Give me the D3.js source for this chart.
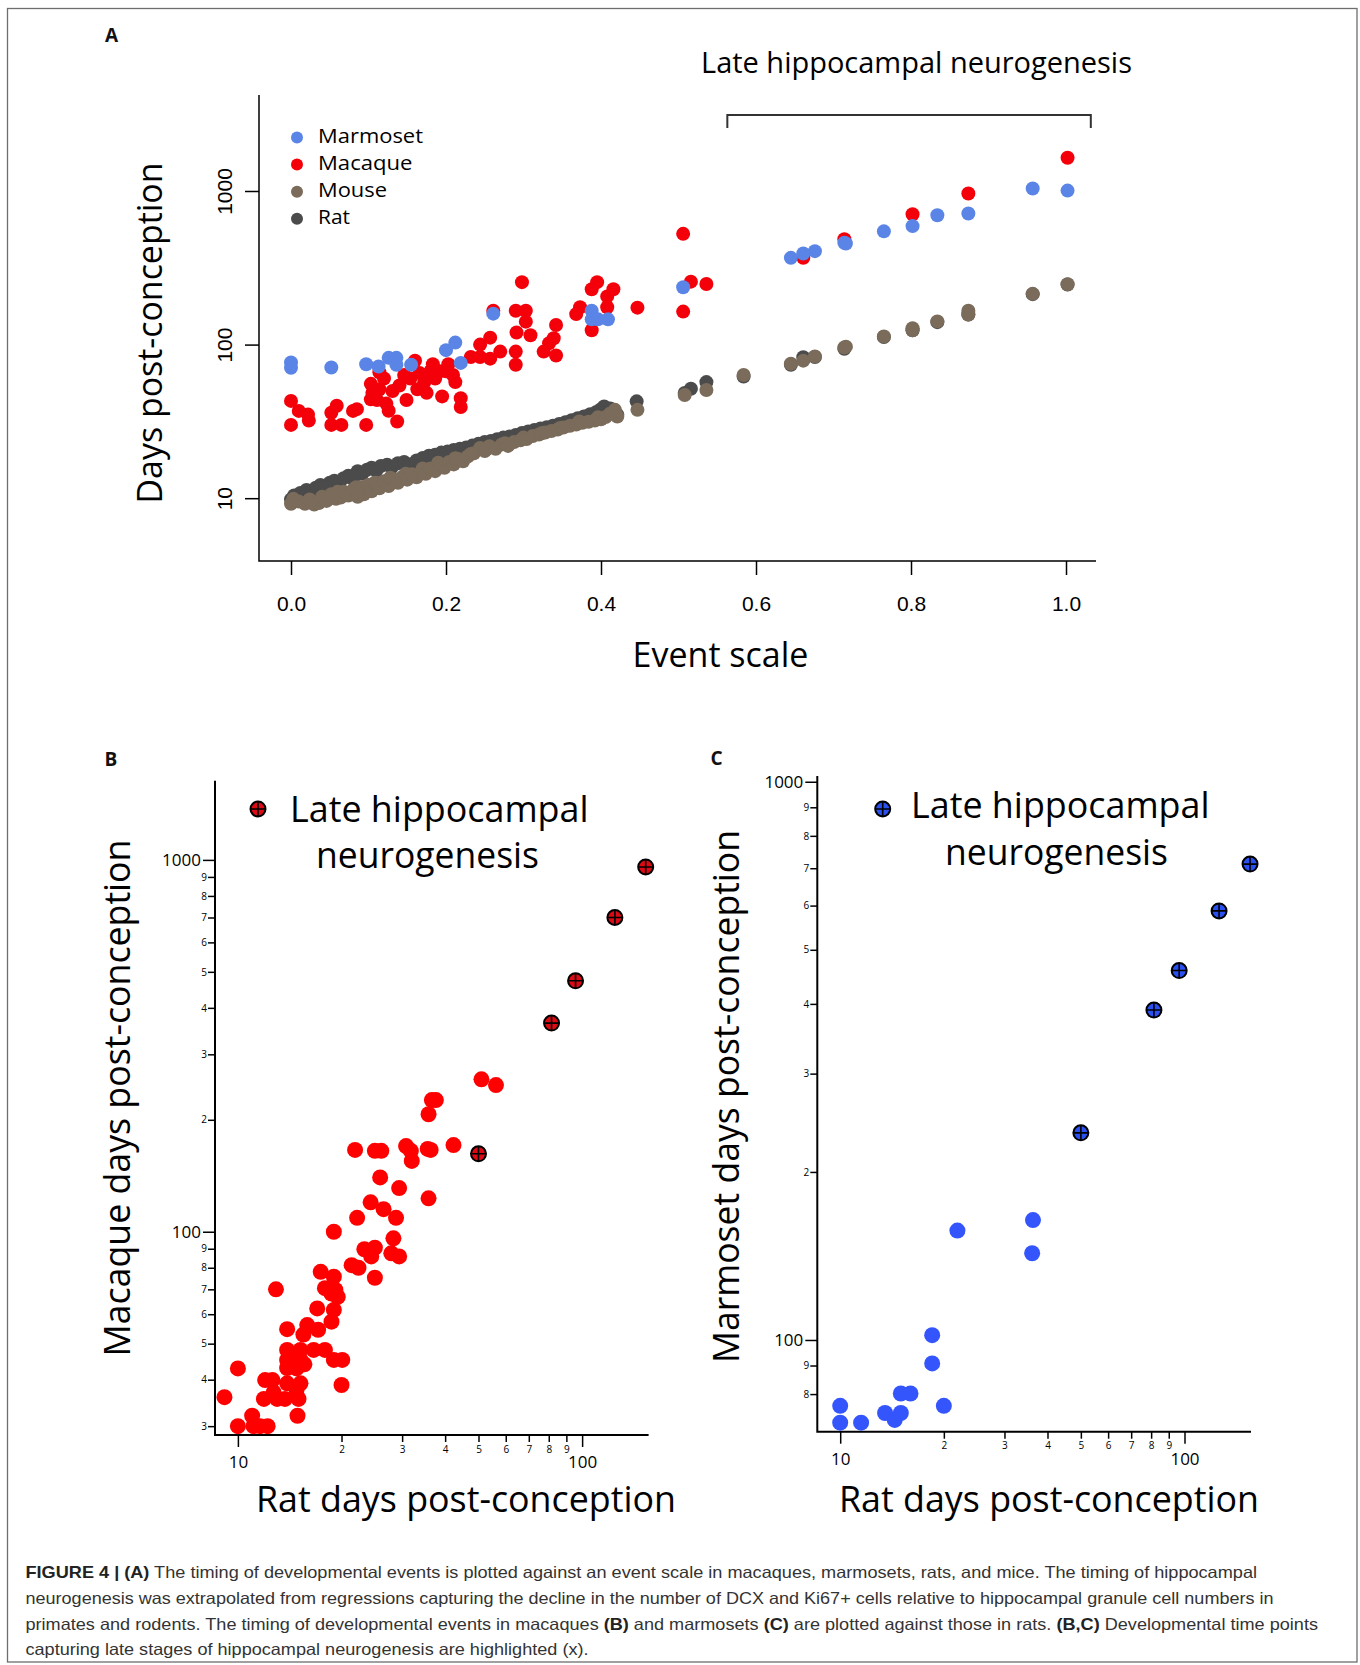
<!DOCTYPE html>
<html>
<head>
<meta charset="utf-8">
<script src="https://cdn.jsdelivr.net/npm/d3@7"></script>
<style>
  body { margin: 0; background: #fff; }
  svg { display: block; }
</style>
</head>
<body>
<svg id="fig"></svg>
<script>
// Panel A: [event scale, days post-conception]
const marmosetA = [
  [0.000, 76.5], [0.000, 70.6], [0.052, 71], [0.097, 74.5], [0.113, 72], [0.126, 82],
  [0.136, 82], [0.136, 74], [0.155, 74], [0.200, 92], [0.212, 103], [0.219, 76],
  [0.261, 159], [0.388, 166], [0.388, 146], [0.396, 146], [0.409, 146], [0.506, 236],
  [0.645, 367], [0.661, 392], [0.676, 406], [0.714, 460], [0.716, 455], [0.765, 546],
  [0.802, 591], [0.834, 695], [0.874, 713], [0.957, 1038], [1.002, 1006],
];
const macaqueA = [
  [0.000, 43], [0.000, 30], [0.010, 37], [0.022, 35], [0.023, 32], [0.052, 36], [0.052, 30],
  [0.059, 40], [0.065, 30], [0.080, 37], [0.085, 38], [0.097, 30], [0.103, 44], [0.103, 55.5],
  [0.105, 48.5], [0.111, 43.6], [0.114, 51.2], [0.114, 66], [0.120, 60.1], [0.123, 41.3],
  [0.126, 37.1], [0.131, 49.9], [0.137, 31.6], [0.140, 54.1], [0.146, 63.4], [0.149, 43.6],
  [0.154, 60.1], [0.160, 78.5], [0.163, 51.2], [0.166, 65.2], [0.172, 57], [0.175, 48.5],
  [0.180, 67], [0.183, 74.5], [0.186, 60.1], [0.192, 67], [0.195, 46], [0.200, 67],
  [0.203, 74.5], [0.209, 63.4], [0.212, 57], [0.219, 44.8], [0.219, 39.2], [0.232, 83],
  [0.244, 100], [0.244, 83], [0.257, 111], [0.257, 81], [0.261, 166], [0.270, 90],
  [0.290, 166], [0.290, 90], [0.290, 74], [0.291, 120], [0.298, 255], [0.303, 166],
  [0.303, 141], [0.309, 115], [0.326, 90], [0.333, 102], [0.339, 110], [0.342, 134],
  [0.342, 85], [0.368, 158], [0.373, 175], [0.388, 229], [0.388, 124], [0.395, 255],
  [0.408, 206], [0.408, 175], [0.416, 229], [0.447, 174], [0.506, 526], [0.506, 164],
  [0.516, 257], [0.536, 248], [0.661, 367], [0.714, 485], [0.802, 706], [0.874, 963],
  [1.002, 1645],
];
const mouseA = [
  [0.000, 9.2], [0.003, 9.9], [0.010, 9.5], [0.018, 9.2], [0.024, 9.8], [0.030, 9.1],
  [0.036, 9.3], [0.040, 10.2], [0.046, 9.6], [0.052, 10.6], [0.058, 9.9], [0.060, 11.0],
  [0.064, 10.1], [0.068, 11.0], [0.074, 10.4], [0.080, 11.3], [0.084, 11.8], [0.086, 10.2],
  [0.090, 11.8], [0.094, 10.6], [0.100, 12.2], [0.104, 11.1], [0.108, 12.6], [0.110, 12.6],
  [0.114, 11.6], [0.120, 12.9], [0.126, 12.0], [0.128, 13.6], [0.132, 13.3], [0.138, 12.6],
  [0.144, 13.8], [0.148, 14.4], [0.150, 13.2], [0.156, 14.3], [0.162, 13.7], [0.168, 14.8],
  [0.170, 15.6], [0.174, 14.4], [0.180, 15.6], [0.186, 15.0], [0.190, 17.0], [0.192, 16.4],
  [0.198, 15.8], [0.204, 17.2], [0.210, 16.6], [0.212, 18.2], [0.216, 18.0], [0.222, 17.4],
  [0.228, 18.7], [0.232, 19.4], [0.236, 19.6], [0.244, 21.2], [0.250, 20.3], [0.252, 20.8],
  [0.256, 21.8], [0.264, 21.0], [0.272, 22.4], [0.276, 22.8], [0.280, 21.9], [0.288, 23.2],
  [0.296, 23.8], [0.300, 24.8], [0.304, 24.3], [0.312, 25.4], [0.320, 26.0], [0.324, 26.6],
  [0.328, 26.8], [0.336, 27.4], [0.344, 28.0], [0.348, 28.8], [0.352, 28.9], [0.360, 29.6],
  [0.368, 30.2], [0.372, 31.6], [0.376, 31.0], [0.384, 31.4], [0.392, 32.0], [0.396, 33.6],
  [0.400, 32.6], [0.406, 33.8], [0.412, 35.6], [0.418, 37.6], [0.421, 34.0], [0.447, 37.6],
  [0.508, 47], [0.536, 50.6], [0.584, 63.4], [0.645, 75], [0.661, 78.6], [0.676, 83.6],
  [0.714, 95.7], [0.716, 97], [0.765, 113], [0.802, 124], [0.802, 128], [0.834, 141.6],
  [0.874, 157], [0.874, 166], [0.957, 214], [1.002, 247],
];
const ratA = [
  [0.000, 9.8], [0.004, 10.4], [0.012, 10.8], [0.020, 11.3], [0.026, 10.6], [0.032, 11.7],
  [0.038, 12.2], [0.044, 11.6], [0.050, 12.6], [0.056, 13.0], [0.062, 12.4], [0.068, 13.5],
  [0.074, 14.0], [0.080, 13.3], [0.086, 15.0], [0.092, 14.4], [0.098, 15.3], [0.104, 15.8],
  [0.110, 15.1], [0.116, 16.2], [0.124, 16.5], [0.130, 15.9], [0.138, 16.9], [0.146, 17.2],
  [0.154, 16.6], [0.162, 17.6], [0.170, 18.3], [0.178, 18.9], [0.186, 19.2], [0.194, 19.8],
  [0.202, 20.1], [0.210, 20.6], [0.218, 21.0], [0.226, 21.4], [0.234, 22.0], [0.242, 22.6],
  [0.250, 23.2], [0.258, 23.6], [0.266, 24.2], [0.274, 24.8], [0.282, 25.2], [0.290, 25.8],
  [0.298, 26.6], [0.306, 27.2], [0.314, 27.8], [0.322, 28.4], [0.330, 29.0], [0.338, 29.6],
  [0.346, 30.4], [0.354, 31.2], [0.362, 32.2], [0.370, 33.2], [0.378, 34.0], [0.386, 35.2],
  [0.394, 36.4], [0.400, 38.0], [0.404, 39.6], [0.412, 38.4], [0.421, 35.0], [0.446, 42.7],
  [0.508, 48.4], [0.516, 51.6], [0.536, 57], [0.584, 62], [0.645, 74], [0.661, 82.8],
  [0.676, 83], [0.714, 94], [0.765, 112], [0.802, 124], [0.834, 140], [0.874, 157],
  [0.957, 213], [1.002, 246],
];
const speciesNames = ['Marmoset', 'Macaque', 'Mouse', 'Rat'];
const speciesColors = ['#5a85e6', '#f4000a', '#7a6b5a', '#4b4b4b'];
const eventTicks = [0, 0.2, 0.4, 0.6, 0.8, 1.0];
const daysTicks = [10, 100, 1000];
const lateRange = [0.563, 1.032];

// Panel B: [rat days, macaque days]
const macaqueVsRat = [
  [51, 257], [56.2, 248], [36.6, 226], [37.6, 226], [35.8, 207], [21.9, 166], [25, 165],
  [26.1, 165], [30.8, 170], [31.8, 165], [35.6, 167], [36.3, 166], [42.3, 171], [32, 155],
  [25.9, 140], [29.4, 131], [35.8, 123], [24.3, 120], [26.5, 115], [22.2, 109], [28.8, 109],
  [19, 100], [28.3, 96], [23.3, 89.7], [25, 90.6], [24.4, 85.8], [27.9, 87.5], [29.4, 85.8],
  [21.4, 81.3], [22.4, 80], [25, 75.2], [17.4, 78], [19, 75.7], [17.9, 70.5], [19.2, 69.7],
  [19.5, 66.8], [18.7, 68.2], [12.9, 70], [17, 62.2], [19, 61.6], [18.7, 57.3], [13.9, 54.7],
  [15.5, 52.9], [15.9, 56.1], [17.1, 54.5], [13.9, 48.1], [15.2, 48.1], [16.6, 48.1],
  [17.9, 48.1], [13.9, 45.2], [15.2, 45.2], [19, 45.2], [20.1, 45.2], [14.8, 42.9], [10, 42.9],
  [12, 39.9], [12.6, 39.9], [13.9, 39.1], [15.2, 39.1], [14.8, 37.5], [20, 38.7], [9.14, 35.9],
  [11.9, 35.5], [13, 35.5], [13.7, 35.5], [15, 35.5], [11, 32], [14.9, 32], [10, 30],
  [11.1, 30], [11.6, 30], [12.2, 30], [13.9, 43], [14.4, 46.5], [15.6, 44], [12.7, 37],
];
const macaqueVsRatLate = [[50, 162], [81.5, 364], [95.7, 473], [124.5, 700], [153, 957]];

// Panel C: [rat days, marmoset days]
const marmosetVsRat = [
  [21.9, 157], [36.3, 164], [36.1, 143], [18.5, 102], [18.5, 90.8], [20, 76.2], [15, 80.2],
  [16, 80.2], [13.5, 74], [14.4, 71.9], [15, 74], [10, 76.2], [10, 71.1], [11.5, 71.1],
];
const marmosetVsRatLate = [[50, 235], [81.5, 390], [96.5, 459], [126, 587], [155, 712]];

const ratMajor = [10, 100];
const ratMinor = [20, 30, 40, 50, 60, 70, 80, 90];
const macaqueMajor = [100, 1000];
const macaqueMinor = [30, 40, 50, 60, 70, 80, 90, 200, 300, 400, 500, 600, 700, 800, 900];
const marmosetMajor = [100, 1000];
const marmosetMinor = [80, 90, 200, 300, 400, 500, 600, 700, 800, 900];

const captionLines = [
  [['FIGURE 4 | (A)', true], [' The timing of developmental events is plotted against an event scale in macaques, marmosets, rats, and mice. The timing of hippocampal', false]],
  [['neurogenesis was extrapolated from regressions capturing the decline in the number of DCX and Ki67+ cells relative to hippocampal granule cell numbers in', false]],
  [['primates and rodents. The timing of developmental events in macaques ', false], ['(B)', true], [' and marmosets ', false], ['(C)', true], [' are plotted against those in rats. ', false], ['(B,C)', true], [' Developmental time points', false]],
  [['capturing late stages of hippocampal neurogenesis are highlighted (x).', false]],
];

const W = 1360;
const H = 1665;
const titleFont = "'Open Sans', sans-serif";

const svg = d3.select('#fig').attr('width', W).attr('height', H)
    .style('font-family', titleFont);

// outer frame
svg.append('rect')
    .attr('x', 7.5).attr('y', 8.5).attr('width', 1349.5).attr('height', 1653.5)
    .attr('fill', 'none').attr('stroke', '#6e6e6e').attr('stroke-width', 1.3);

function panelLetter(label, x, y) {
  svg.append('text').attr('x', x).attr('y', y).text(label)
      .style('font-size', '19px').style('font-weight', 'bold').attr('fill', '#111');
}

function bigText(x, y, txt, size, len, anchor, rotate) {
  const t = svg.append('text').text(txt)
      .style('font-size', size + 'px').attr('fill', '#000')
      .attr('text-anchor', anchor || 'start');
  if (len) t.attr('textLength', len).attr('lengthAdjust', 'spacingAndGlyphs');
  if (rotate) {
    t.attr('transform', `translate(${x},${y}) rotate(-90)`);
  } else {
    t.attr('x', x).attr('y', y);
  }
  return t;
}

// ---------------- Panel A ----------------
panelLetter('A', 105, 42);

const xA = d3.scaleLinear().domain([-0.0413, 1.0387]).range([259, 1096]);
const yA = d3.scaleLog().domain([3.9, 4217]).range([561, 95]);

const gxA = svg.append('g').attr('transform', `translate(0,${yA.range()[0]})`)
    .call(d3.axisBottom(xA).tickValues(eventTicks).tickSize(14).tickPadding(21)
        .tickFormat(d3.format('.1f')));
gxA.select('.domain').remove();
gxA.selectAll('line').attr('stroke', '#000').attr('stroke-width', 1.5);
gxA.selectAll('text').attr('fill', '#000')
    .style('font-family', "'Liberation Sans', Arial, sans-serif").style('font-size', '21px');

const gyA = svg.append('g').attr('transform', `translate(${xA.range()[0]},0)`)
    .call(d3.axisLeft(yA).tickValues(daysTicks).tickSize(14).tickFormat(d3.format('d')));
gyA.select('.domain').remove();
gyA.selectAll('line').attr('stroke', '#000').attr('stroke-width', 1.5);
gyA.selectAll('text')
    .attr('x', 0).attr('y', -35).attr('dy', null)
    .attr('transform', 'rotate(-90)')
    .attr('text-anchor', 'middle').attr('dominant-baseline', 'central')
    .attr('fill', '#000')
    .style('font-family', "'Liberation Sans', Arial, sans-serif").style('font-size', '21px');

// L-shaped box
svg.append('path')
    .attr('d', `M${xA.range()[0]},${yA.range()[1]}V${yA.range()[0]}H${xA.range()[1]}`)
    .attr('fill', 'none').attr('stroke', '#000').attr('stroke-width', 1.5);

// points, rodents first so primates sit on top
const seriesA = [
  {data: ratA, color: speciesColors[3]},
  {data: mouseA, color: speciesColors[2]},
  {data: macaqueA, color: speciesColors[1]},
  {data: marmosetA, color: speciesColors[0]},
];
seriesA.forEach((s) => {
  svg.append('g').selectAll('circle')
      .data(s.data)
      .join('circle')
      .attr('cx', (d) => xA(d[0]))
      .attr('cy', (d) => yA(d[1]))
      .attr('r', 7)
      .attr('fill', s.color);
});

// legend
const legendWidths = [105, 94.5, 69, 32];
const legA = svg.append('g');
speciesNames.forEach((name, i) => {
  const by = 143 + i * 27.1;
  legA.append('circle').attr('cx', 297).attr('cy', by - 5.5).attr('r', 6)
      .attr('fill', speciesColors[i]);
  legA.append('text').attr('x', 318).attr('y', by).text(name)
      .attr('textLength', legendWidths[i]).attr('lengthAdjust', 'spacingAndGlyphs')
      .style('font-size', '20px').attr('fill', '#000');
});

// late neurogenesis bracket
svg.append('path')
    .attr('d', `M${xA(lateRange[0])},128V115H${xA(lateRange[1])}V128`)
    .attr('fill', 'none').attr('stroke', '#333').attr('stroke-width', 2);
bigText(701, 73, 'Late hippocampal neurogenesis', 28.8, 431);

bigText(162, 333, 'Days post-conception', 34, 341, 'middle', true);
bigText(720.5, 667, 'Event scale', 34, null, 'middle');

// ---------------- Panels B and C ----------------
function crossMarker(g, cx, cy, fill) {
  const r = 7.5;
  g.append('circle').attr('cx', cx).attr('cy', cy).attr('r', r)
      .attr('fill', fill).attr('stroke', '#000').attr('stroke-width', 2);
  g.append('path')
      .attr('d', `M${cx - r},${cy}H${cx + r}M${cx},${cy - r}V${cy + r}`)
      .attr('stroke', '#000').attr('stroke-width', 1.6);
}

function styleAxis(g, size) {
  g.select('.domain').remove();
  g.selectAll('line').attr('stroke', '#000').attr('stroke-width', 1.5);
  g.selectAll('text').attr('fill', '#000').style('font-family', titleFont)
      .style('font-size', size + 'px');
}

function logPanel(cfg) {
  const x = cfg.x;
  const y = cfg.y;
  const x0 = x.range()[0];
  const y0 = y.range()[0];
  const firstDigit = (d) => String(d).charAt(0);

  styleAxis(svg.append('g').attr('transform', `translate(${x0},0)`)
      .call(d3.axisLeft(y).tickValues(cfg.yMinor).tickSize(7).tickPadding(1)
          .tickFormat(firstDigit)), 10);
  styleAxis(svg.append('g').attr('transform', `translate(${x0},0)`)
      .call(d3.axisLeft(y).tickValues(cfg.yMajor).tickSize(12).tickPadding(2)
          .tickFormat(d3.format('d'))), 17);
  styleAxis(svg.append('g').attr('transform', `translate(0,${y0})`)
      .call(d3.axisBottom(x).tickValues(ratMinor).tickSize(7).tickPadding(3.5)
          .tickFormat(firstDigit)), 10);
  styleAxis(svg.append('g').attr('transform', `translate(0,${y0})`)
      .call(d3.axisBottom(x).tickValues(ratMajor).tickSize(12).tickPadding(cfg.majorPad)
          .tickFormat(d3.format('d'))), 17);

  svg.append('path')
      .attr('d', `M${x0},${y.range()[1]}V${y0}H${x.range()[1]}`)
      .attr('fill', 'none').attr('stroke', '#000').attr('stroke-width', 2);

  svg.append('g').selectAll('circle')
      .data(cfg.points)
      .join('circle')
      .attr('cx', (d) => x(d[0]))
      .attr('cy', (d) => y(d[1]))
      .attr('r', 8)
      .attr('fill', cfg.color);

  const late = svg.append('g');
  cfg.late.forEach((d) => crossMarker(late, x(d[0]), y(d[1]), cfg.lateColor));

  // legend
  crossMarker(svg.append('g'), cfg.legend.mx, cfg.legend.my, cfg.lateColor);
  bigText(cfg.legend.x1, cfg.legend.y1, 'Late hippocampal', 36, 298.5);
  bigText(cfg.legend.x2, cfg.legend.y2, 'neurogenesis', 36, 223);

  bigText(cfg.yTitle.x, cfg.yTitle.y, cfg.yTitle.text, 36, cfg.yTitle.len, 'middle', true);
  bigText(cfg.xTitle.x, cfg.xTitle.y, 'Rat days post-conception', 36, 420);
}

panelLetter('B', 104.5, 766);
logPanel({
  x: d3.scaleLog().domain([8.58, 156]).range([215, 648.6]),
  y: d3.scaleLog().domain([28.4, 1633]).range([1435, 780.7]),
  yMajor: macaqueMajor,
  yMinor: macaqueMinor,
  majorPad: 9,
  points: macaqueVsRat,
  late: macaqueVsRatLate,
  color: '#ff0000',
  lateColor: '#dc0a14',
  legend: {mx: 258, my: 809, x1: 290, y1: 821.7, x2: 316, y2: 868.3},
  yTitle: {x: 130, y: 1098, text: 'Macaque days post-conception', len: 517},
  xTitle: {x: 256, y: 1511.7},
});

panelLetter('C', 710.5, 765);
logPanel({
  x: d3.scaleLog().domain([8.58, 156]).range([817.3, 1251]),
  y: d3.scaleLog().domain([68.5, 1024]).range([1431.7, 776]),
  yMajor: marmosetMajor,
  yMinor: marmosetMinor,
  majorPad: 9,
  points: marmosetVsRat,
  late: marmosetVsRatLate,
  color: '#3355fb',
  lateColor: '#2a50f0',
  legend: {mx: 882.7, my: 809, x1: 911, y1: 818.3, x2: 945, y2: 865},
  yTitle: {x: 738.5, y: 1096.5, text: 'Marmoset days post-conception', len: 533},
  xTitle: {x: 839, y: 1511.7},
});

// ---------------- Caption ----------------
const captionWidths = [1231.5, 1248, 1292.5, 563];
captionLines.forEach((line, i) => {
  const t = svg.append('text')
      .attr('x', 25.5).attr('y', 1578.3 + i * 25.6)
      .attr('textLength', captionWidths[i]).attr('lengthAdjust', 'spacingAndGlyphs')
      .style('font-family', "'Liberation Sans', Arial, sans-serif")
      .style('font-size', '16.5px').attr('fill', '#333');
  line.forEach(([s, bold]) => {
    t.append('tspan').text(s)
        .style('font-weight', bold ? 'bold' : 'normal')
        .attr('fill', bold ? '#222' : '#333');
  });
});
</script>
</body>
</html>
